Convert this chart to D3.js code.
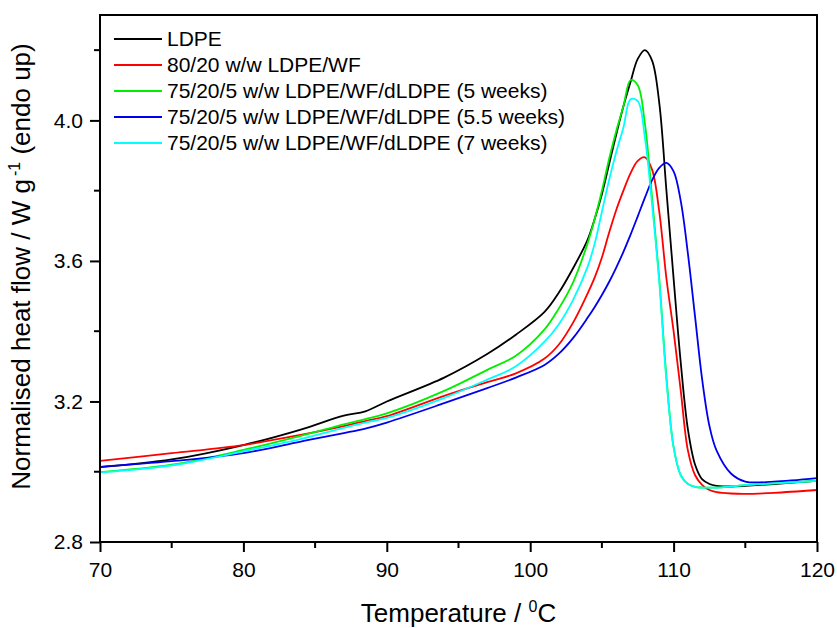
<!DOCTYPE html>
<meta charset="utf-8">
<script src="https://d3js.org/d3.v7.min.js"></script>
<style>
  body { margin: 0; background: #fff; }
  text { font-family: Arial, "Liberation Sans", sans-serif; fill: #000; }
</style>
<div id="chart"></div>
<script>

// temperature grid (degC) shared by all curves
var temps = [70, 75, 80, 84, 87, 88.5, 90, 94, 97, 99, 101, 102, 103, 104, 104.5, 105, 105.5, 106, 106.5, 107,
             107.5, 108, 108.5, 109, 109.5, 110, 110.5, 111, 111.5, 112, 112.5, 113, 114, 115, 117, 120];

var ldpe    = [3.013, 3.035, 3.076, 3.12, 3.16, 3.172, 3.20, 3.268, 3.335, 3.39, 3.455, 3.51, 3.58, 3.66, 3.72, 3.79,
               3.875, 3.96, 4.04, 4.11, 4.175, 4.20, 4.17, 4.05, 3.80, 3.55, 3.31, 3.12, 3.02, 2.978, 2.965, 2.96,
               2.958, 2.96, 2.965, 2.974];
var wf8020  = [3.031, 3.053, 3.076, 3.105, 3.13, 3.144, 3.158, 3.216, 3.255, 3.28, 3.322, 3.362, 3.425, 3.507, 3.553, 3.61,
               3.68, 3.745, 3.80, 3.85, 3.885, 3.895, 3.86, 3.74, 3.55, 3.40, 3.23, 3.06, 2.99, 2.962, 2.948, 2.942,
               2.938, 2.937, 2.94, 2.948];
var wk5     = [2.999, 3.02, 3.062, 3.102, 3.135, 3.15, 3.166, 3.23, 3.29, 3.33, 3.405, 3.465, 3.54, 3.65, 3.72, 3.80,
               3.89, 3.97, 4.04, 4.115, 4.10, 3.99, 3.78, 3.55, 3.27, 3.07, 2.99, 2.965, 2.957, 2.955, 2.955, 2.955,
               2.958, 2.962, 2.967, 2.974];
var wk55    = [3.014, 3.03, 3.053, 3.086, 3.11, 3.123, 3.14, 3.195, 3.238, 3.268, 3.304, 3.336, 3.381, 3.438, 3.469, 3.503,
               3.54, 3.581, 3.626, 3.675, 3.727, 3.78, 3.83, 3.865, 3.879, 3.855, 3.77, 3.62, 3.44, 3.26, 3.13, 3.06,
               2.995, 2.972, 2.972, 2.982];
var wk7     = [2.998, 3.018, 3.058, 3.093, 3.125, 3.14, 3.153, 3.21, 3.262, 3.30, 3.37, 3.42, 3.49, 3.583, 3.65, 3.74,
               3.83, 3.91, 3.98, 4.06, 4.055, 3.95, 3.76, 3.54, 3.26, 3.07, 2.99, 2.965, 2.957, 2.955, 2.955, 2.955,
               2.958, 2.962, 2.967, 2.974];

var seriesNames  = ["LDPE", "80/20 w/w LDPE/WF", "75/20/5 w/w LDPE/WF/dLDPE (5 weeks)",
                    "75/20/5 w/w LDPE/WF/dLDPE (5.5 weeks)", "75/20/5 w/w LDPE/WF/dLDPE (7 weeks)"];
var seriesColors = ["#000000", "#ff0000", "#00ee00", "#0000ee", "#00ffff"];
var seriesValues = [ldpe, wf8020, wk5, wk55, wk7];

var xTicks = [70, 80, 90, 100, 110, 120];
var xMinor = [75, 85, 95, 105, 115];
var yTicks = [2.8, 3.2, 3.6, 4.0];
var yMinor = [3.0, 3.4, 3.8, 4.2];

var W = 837, H = 628;
var margin = {top: 15, right: 20, bottom: 86, left: 100};
var width = W - margin.left - margin.right,
    height = H - margin.top - margin.bottom;

var x = d3.scaleLinear().domain([70, 120]).range([0, width]);
var y = d3.scaleLinear().domain([2.8, 4.3]).range([height, 0]);

var svg = d3.select("#chart").append("svg")
    .attr("width", W)
    .attr("height", H)
  .append("g")
    .attr("transform", "translate(" + margin.left + "," + margin.top + ")");

var line = d3.line()
    .x(function(d) { return x(d[0]); })
    .y(function(d) { return y(d[1]); })
    .curve(d3.curveCatmullRom.alpha(0.5));

svg.append("defs").append("clipPath").attr("id", "clip")
  .append("rect").attr("width", width).attr("height", height);

var curves = svg.append("g").attr("clip-path", "url(#clip)");
seriesValues.forEach(function(vals, i) {
  curves.append("path")
    .datum(temps.map(function(t, j) { return [t, vals[j]]; }))
    .attr("fill", "none")
    .attr("stroke", seriesColors[i])
    .attr("stroke-width", 1.8)
    .attr("d", line);
});

// frame
svg.append("rect")
    .attr("width", width)
    .attr("height", height)
    .attr("fill", "none")
    .attr("stroke", "#000")
    .attr("stroke-width", 2);

// x axis
var xAxis = svg.append("g")
    .attr("transform", "translate(0," + height + ")")
    .call(d3.axisBottom(x).tickValues(xTicks).tickSize(10).tickPadding(10).tickFormat(d3.format("d")));
xAxis.append("g").selectAll("line").data(xMinor).enter().append("line")
    .attr("x1", function(d) { return x(d); }).attr("x2", function(d) { return x(d); })
    .attr("y1", 0).attr("y2", 6).attr("stroke", "#000").attr("stroke-width", 2);

// y axis
var yAxis = svg.append("g")
    .call(d3.axisLeft(y).tickValues(yTicks).tickSize(10).tickPadding(7).tickFormat(d3.format(".1f")));
yAxis.append("g").selectAll("line").data(yMinor).enter().append("line")
    .attr("y1", function(d) { return y(d); }).attr("y2", function(d) { return y(d); })
    .attr("x1", 0).attr("x2", -6).attr("stroke", "#000").attr("stroke-width", 2);

[xAxis, yAxis].forEach(function(a) {
  a.select(".domain").remove();
  a.selectAll(".tick line").attr("stroke-width", 2);
  a.selectAll(".tick text").style("font-size", "21px").style("font-family", "Arial, 'Liberation Sans', sans-serif");
});

// axis titles
var xt = svg.append("text")
    .attr("x", width / 2)
    .attr("y", height + 80)
    .attr("text-anchor", "middle")
    .style("font-size", "26px");
xt.append("tspan").text("Temperature / ");
xt.append("tspan").attr("dy", -10).style("font-size", "16px").text("0");
xt.append("tspan").attr("dy", 10).text("C");

var yt = svg.append("text")
    .attr("transform", "translate(" + (-70) + "," + (height / 2 - 12) + ") rotate(-90)")
    .attr("text-anchor", "middle")
    .style("font-size", "26px");
yt.append("tspan").text("Normalised heat flow / W g");
yt.append("tspan").attr("dy", -10).attr("dx", 3).style("font-size", "16px").text("-1");
yt.append("tspan").attr("dy", 10).text(" (endo up)");

// legend
var legend = svg.selectAll(".legend")
    .data(seriesNames)
  .enter().append("g")
    .attr("class", "legend")
    .attr("transform", function(d, i) { return "translate(14," + (24 + i * 26) + ")"; });

legend.append("line")
    .attr("x1", 0).attr("x2", 48)
    .attr("stroke", function(d, i) { return seriesColors[i]; })
    .attr("stroke-width", 1.8);

legend.append("text")
    .attr("x", 53)
    .attr("dy", "0.35em")
    .style("font-size", "21px")
    .text(function(d) { return d; });

</script>
